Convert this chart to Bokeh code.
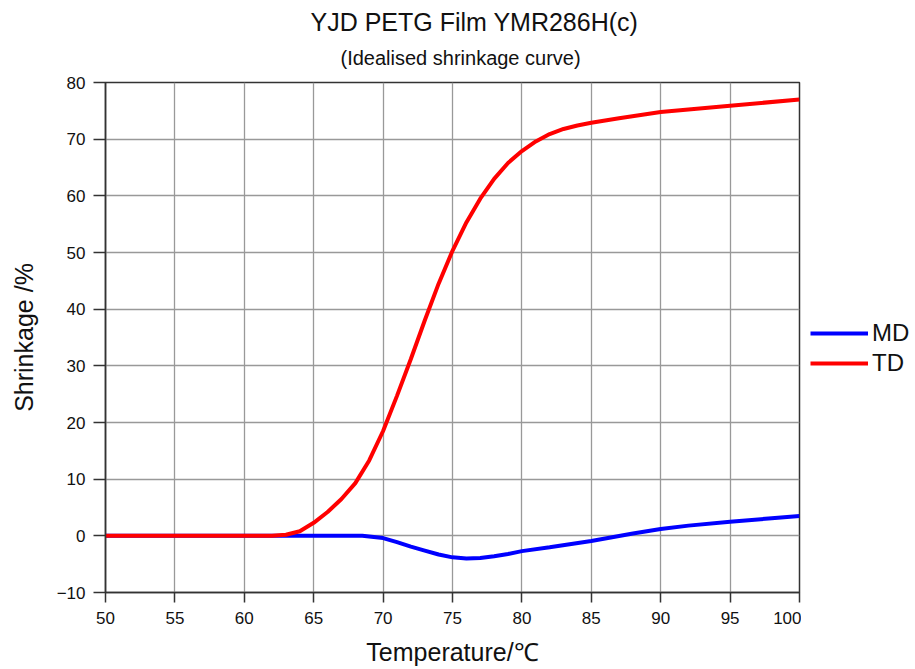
from bokeh.plotting import figure
from bokeh.models import Range1d, Legend, LegendItem, FixedTicker, Title
from bokeh.layouts import row
from bokeh.embed import file_html
from bokeh.resources import INLINE

# ---- data ----
temp_md = [50, 60, 68, 68.5, 69, 70, 71, 72, 73, 74, 75, 76, 77, 78, 79, 80,
           82, 85, 88, 90, 92, 95, 98, 100]
md = [0, 0, 0, 0, -0.1, -0.4, -1.1, -1.9, -2.6, -3.3, -3.8, -4.0, -3.9, -3.6,
      -3.2, -2.7, -2.0, -0.9, 0.4, 1.2, 1.8, 2.5, 3.1, 3.5]

temp_td = [50, 62, 63, 64, 65, 66, 67, 68, 69, 70, 71, 72, 73, 74, 75, 76, 77,
           78, 79, 80, 81, 82, 83, 84, 85, 87, 90, 95, 100]
td = [0, 0, 0.2, 0.8, 2.3, 4.2, 6.5, 9.3, 13.3, 18.5, 24.7, 31.2, 38, 44.5, 50.3,
      55.3, 59.5, 63, 65.8, 67.9, 69.6, 70.9, 71.8, 72.4, 72.9, 73.7, 74.8,
      75.9, 77]

series_names = ["MD", "TD"]
series_colors = ["#0000ff", "#ff0000"]

x_ticks = [50, 55, 60, 65, 70, 75, 80, 85, 90, 95, 100]
y_ticks = [-10, 0, 10, 20, 30, 40, 50, 60, 70, 80]

title_text = "YJD PETG Film YMR286H(c)"
subtitle_text = "(Idealised shrinkage curve)"
x_label = "Temperature/\u2103"
y_label = "Shrinkage /%"

FONT = "Liberation Sans"

p = figure(width=801, height=669, x_range=Range1d(50, 100), y_range=Range1d(-10, 80),
           output_backend="svg", toolbar_location=None, title=None,
           min_border_left=105, min_border_right=2, min_border_top=82, min_border_bottom=77)

p.background_fill_color = "white"
p.border_fill_color = "white"
p.outline_line_color = "#333333"
p.outline_line_width = 1.5

for ax in (p.xaxis, p.yaxis):
    ax.axis_line_color = "#333333"
    ax.axis_line_width = 1.5
    ax.major_tick_line_color = "#333333"
    ax.major_tick_line_width = 1.5
    ax.minor_tick_line_color = None
    ax.major_tick_in = 0
    ax.major_label_text_font = FONT
    ax.major_label_text_font_size = "17px"
    ax.major_label_text_color = "#111111"
    ax.axis_label_text_font = FONT
    ax.axis_label_text_font_style = "normal"
    ax.axis_label_text_font_size = "25px"
    ax.axis_label_text_color = "#111111"

p.xaxis.ticker = FixedTicker(ticks=x_ticks)
p.yaxis.ticker = FixedTicker(ticks=y_ticks)
p.xaxis.major_tick_out = 10
p.yaxis.major_tick_out = 12
p.xaxis.major_label_standoff = 9
p.yaxis.major_label_standoff = 8
p.xaxis.axis_label = x_label
p.yaxis.axis_label = y_label
p.xaxis.axis_label_standoff = 11
p.yaxis.axis_label_standoff = 16

p.xgrid.ticker = FixedTicker(ticks=x_ticks)
p.ygrid.ticker = FixedTicker(ticks=y_ticks)
for g in (p.xgrid, p.ygrid):
    g.grid_line_color = "#999999"
    g.grid_line_width = 1.3

p.line(temp_md, md, line_color=series_colors[0], line_width=4)
p.line(temp_td, td, line_color=series_colors[1], line_width=4)

p.add_layout(Title(text=subtitle_text, align="left", offset=235, standoff=28,
                   text_font=FONT, text_font_size="20px", text_font_style="normal",
                   text_color="#111111"), "above")
p.add_layout(Title(text=title_text, align="left", offset=205, standoff=-10,
                   text_font=FONT, text_font_size="25px", text_font_style="normal",
                   text_color="#111111"), "above")

# legend panel to the right of the plot frame (its frame is aligned with the plot's)
pl = figure(width=114, height=669, x_range=Range1d(0, 1), y_range=Range1d(0, 1),
            output_backend="svg", toolbar_location=None,
            x_axis_location=None, y_axis_location=None, min_border=0)
pl.outline_line_color = None
pl.grid.visible = False
pl.background_fill_color = "white"
pl.border_fill_color = "white"
items = []
for name, col, xs, ys in zip(series_names, series_colors, [temp_md, temp_td], [md, td]):
    r = pl.line(xs, ys, line_color=col, line_width=4)  # lies outside this panel's ranges
    items.append(LegendItem(label=name, renderers=[r]))
legend = Legend(items=items, location=(9, 214), padding=0, margin=0, spacing=0,
                glyph_width=58, glyph_height=30, label_height=30,
                label_standoff=4, label_text_font=FONT,
                label_text_font_size="24px", label_text_color="#111111",
                border_line_alpha=0, background_fill_alpha=0)
pl.add_layout(legend, "center")

layout = row(p, pl, spacing=0)
open("out.html", "w").write(file_html(layout, INLINE))
